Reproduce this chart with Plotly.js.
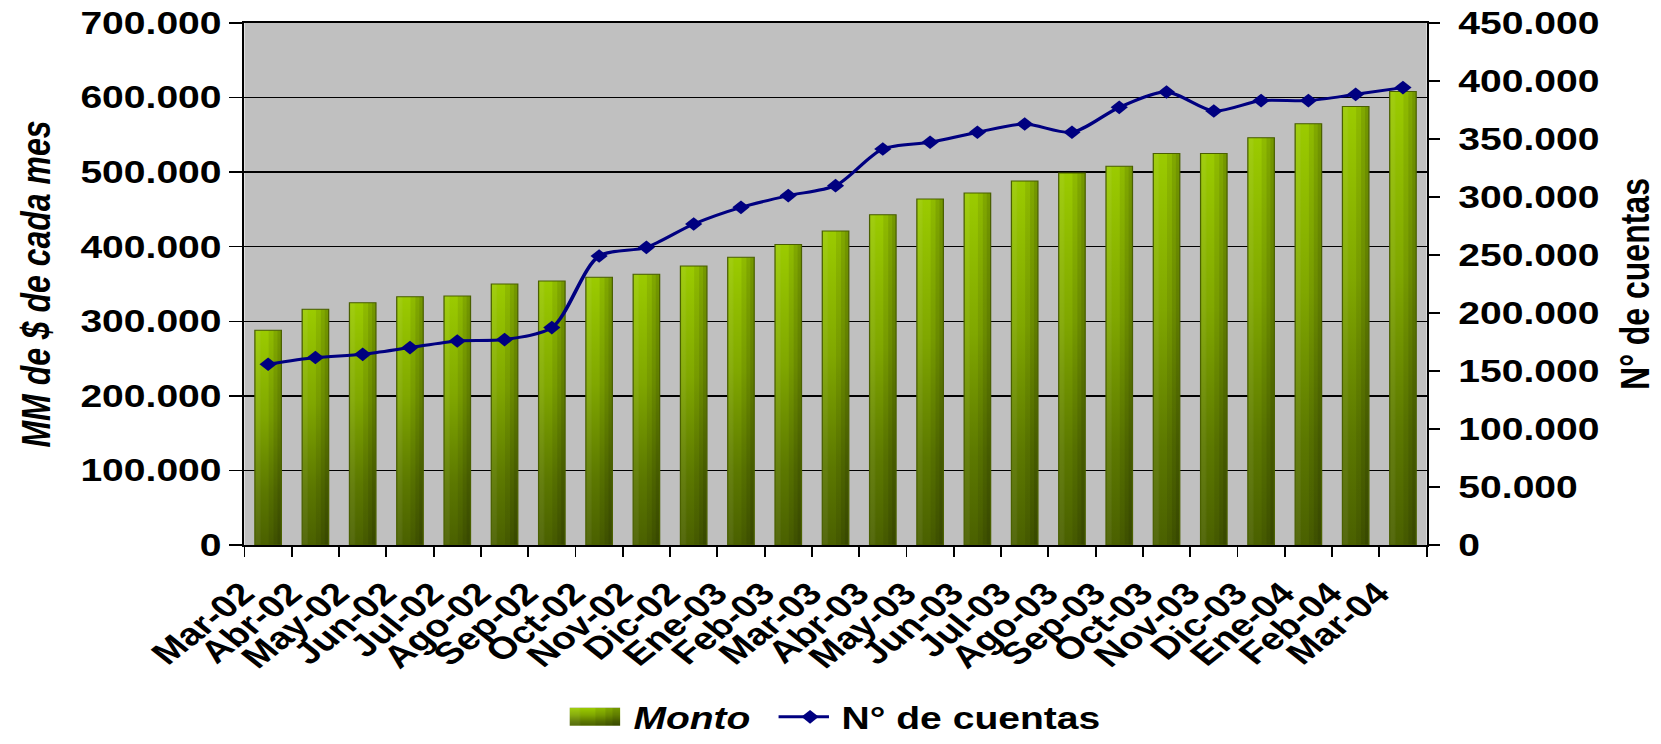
<!DOCTYPE html>
<html>
<head>
<meta charset="utf-8">
<script src="https://cdn.plot.ly/plotly-3.0.1.min.js"></script>
<style>
html,body{margin:0;padding:0;background:#fff;overflow:hidden;}
#wrap{width:1661px;height:744px;overflow:hidden;position:relative;}
#chart{width:1318px;height:744px;transform:scaleX(1.26024);transform-origin:0 0;}
</style>
</head>
<body>
<div id="wrap"><div id="chart"></div></div>
<script>
// ---- data ----
const months = ['Mar-02','Abr-02','May-02','Jun-02','Jul-02','Ago-02','Sep-02','Oct-02','Nov-02','Dic-02',
  'Ene-03','Feb-03','Mar-03','Abr-03','May-03','Jun-03','Jul-03','Ago-03','Sep-03','Oct-03','Nov-03','Dic-03',
  'Ene-04','Feb-04','Mar-04'];
const monto = [288000,316000,325000,333000,334000,350000,354000,359000,363000,374000,
  386000,403000,421000,443000,464000,472000,488000,499000,508000,525000,525000,546000,
  565000,588000,608000];
const cuentas = [155800,161600,164400,170200,175900,177100,187400,249100,256600,276700,
  291100,301200,309800,341400,347200,355800,362900,355800,377300,390500,374100,383100,
  383100,388500,394300];
const seriesNames = ['<i>Monto</i>\u00A0\u00A0','N° de cuentas'];
const leftTitle = 'MM de $ de cada mes';
const rightTitle = 'N° de cuentas';

const FONT = '"Liberation Sans", Arial, sans-serif';

const data = [
  {type:'bar', x:months, y:monto, name:seriesNames[0], yaxis:'y', width:0.56,
   marker:{color:'#7A9E00', line:{color:'#4A6000', width:1}}},
  {type:'scatter', mode:'lines+markers', x:months, y:cuentas, name:seriesNames[1], yaxis:'y2',
   line:{color:'#000080', width:3, shape:'spline', smoothing:0.8},
   marker:{symbol:'diamond', size:10.5, color:'#000080'}}
];

const layout = {
  width:1318, height:744,
  margin:{l:194, r:186, t:23, b:199, autoexpand:false},
  paper_bgcolor:'#ffffff', plot_bgcolor:'#C0C0C0',
  separators:',.',
  font:{family:FONT, size:30, color:'#000', weight:'bold'},
  barmode:'overlay',
  showlegend:true,
  legend:{orientation:'h', xref:'container', yref:'container', x:0.505, xanchor:'center',
    y:0.036, yanchor:'middle', font:{family:FONT, size:31, weight:'bold', color:'#000'},
    itemwidth:40, bgcolor:'rgba(0,0,0,0)', traceorder:'normal'},
  xaxis:{type:'category', range:[-0.5,24.5], tickmode:'linear', tick0:0, dtick:1,
    tickangle:-45, ticks:'outside', ticklen:10,
    tickwidth:1.5, tickcolor:'#000', tickson:'boundaries', showline:true, linecolor:'#000',
    linewidth:2, mirror:true, showgrid:false, zeroline:false, automargin:false,
    ticklabelstandoff:16, ticklabelshift:-20,
    tickfont:{family:FONT, size:31, weight:'bold', color:'#000'}},
  yaxis:{range:[0,700000], tick0:0, dtick:100000, tickformat:',d', ticks:'outside', ticklen:10,
    tickwidth:1.5, tickcolor:'#000', showline:true, linecolor:'#000', linewidth:2,
    showgrid:true, gridcolor:'#000', gridwidth:1.3, zeroline:false, automargin:false,
    ticklabelstandoff:5.5,
    tickfont:{family:FONT, size:31, weight:'bold', color:'#000'},
    title:{text:leftTitle, standoff:14, font:{family:FONT, size:32, weight:'bold', style:'italic', color:'#000'}}},
  yaxis2:{overlaying:'y', side:'right', anchor:'x', range:[0,450000], tick0:0, dtick:50000,
    tickformat:',d', ticks:'outside', ticklen:9, tickwidth:1.5, tickcolor:'#000',
    showline:true, linecolor:'#000', linewidth:2, showgrid:false, zeroline:false, automargin:false,
    ticklabelstandoff:8,
    tickfont:{family:FONT, size:31, weight:'bold', color:'#000'},
    title:{text:rightTitle, standoff:18, font:{family:FONT, size:32, weight:'bold', color:'#000'}}},
  yaxis3:{overlaying:'y', side:'right', anchor:'x', range:[0,450000], tick0:0, dtick:50000,
    ticks:'inside', ticklen:10, tickwidth:1.5, tickcolor:'#000', showticklabels:false,
    showline:false, showgrid:false, zeroline:false, automargin:false}
};

Plotly.newPlot('chart', data, layout, {staticPlot:true, displayModeBar:false}).then(gd => {
  const NS = 'http://www.w3.org/2000/svg';
  function el(tag, attrs, parent){
    const e = document.createElementNS(NS, tag);
    for (const k in attrs) e.setAttribute(k, attrs[k]);
    if (parent) parent.appendChild(e);
    return e;
  }
  const defs = gd.querySelector('svg.main-svg defs');
  const gV = el('linearGradient', {id:'gV', x1:0, y1:0, x2:0, y2:1}, defs);
  [[0,'#9BCB00'],[0.4,'#80A700'],[0.75,'#5C7800'],[1,'#4A6000']].forEach(s =>
    el('stop', {offset:s[0], 'stop-color':s[1]}, gV));
  const gH = el('linearGradient', {id:'gH', x1:0, y1:0, x2:1, y2:0}, defs);
  [[0,'#fff',0.06],[0.2,'#fff',0.06],[0.22,'#000',0],[0.5,'#000',0],[0.52,'#000',0.08],
   [0.7,'#000',0.08],[0.72,'#000',0.17],[0.84,'#000',0.17],[0.86,'#000',0.25],[1,'#000',0.25]]
   .forEach(s => el('stop', {offset:s[0], 'stop-color':s[1], 'stop-opacity':s[2]}, gH));
  const pat = el('pattern', {id:'pBar', patternUnits:'objectBoundingBox',
    patternContentUnits:'objectBoundingBox', x:0, y:0, width:1, height:1}, defs);
  el('rect', {x:0, y:0, width:1, height:1, fill:'url(#gV)'}, pat);
  el('rect', {x:0, y:0, width:1, height:1, fill:'url(#gH)'}, pat);

  gd.querySelectorAll('.barlayer .point path').forEach(p => { p.style.fill = 'url(#pBar)'; });

  // legend: larger gradient swatch, longer line symbol
  gd.querySelectorAll('.legend [clip-path]').forEach(e => e.removeAttribute('clip-path'));
  const legTraces = gd.querySelectorAll('.legend .traces');
  if (legTraces[0]) {
    legTraces[0].querySelectorAll('.legendpoints path').forEach(p => {
      p.setAttribute('d', 'M14.5,9H-25.5V-9H14.5Z');
      p.style.fill = 'url(#pBar)';
      p.style.stroke = 'none';
    });
  }
  if (legTraces[1]) {
    legTraces[1].querySelectorAll('.legendlines path').forEach(p => {
      p.setAttribute('d', 'M0,0h40');
    });
  }
});
</script>
</body>
</html>
